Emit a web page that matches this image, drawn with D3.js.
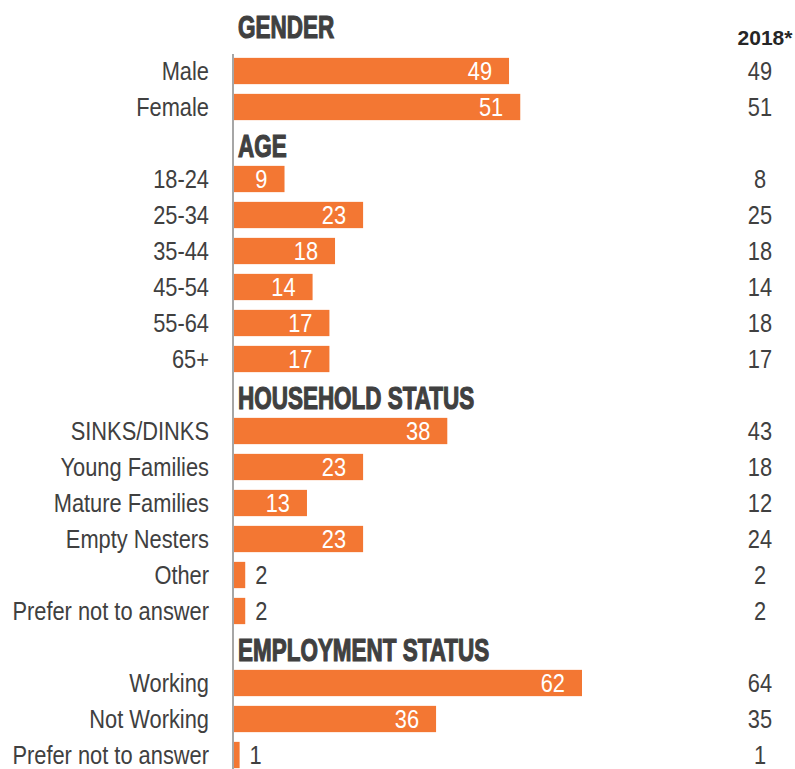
<!DOCTYPE html>
<html>
<head>
<meta charset="utf-8">
<script src="https://cdn.jsdelivr.net/npm/d3@7"></script>
<style>
  body { margin: 0; background: #fff; }
  text { font-family: "Liberation Sans", Arial, sans-serif; fill: #404040; }
</style>
</head>
<body>
<script>
const sections = ["GENDER", "AGE", "HOUSEHOLD STATUS", "EMPLOYMENT STATUS"]
const categories = ["Male", "Female", "18-24", "25-34", "35-44", "45-54", "55-64", "65+",
  "SINKS/DINKS", "Young Families", "Mature Families", "Empty Nesters", "Other", "Prefer not to answer",
  "Working", "Not Working", "Prefer not to answer"]
const sectionOf = [0, 0, 1, 1, 1, 1, 1, 1, 2, 2, 2, 2, 2, 2, 3, 3, 3]
const values = [49, 51, 9, 23, 18, 14, 17, 17, 38, 23, 13, 23, 2, 2, 62, 36, 1]
const values2018 = [49, 51, 8, 25, 18, 14, 18, 17, 43, 18, 12, 24, 2, 2, 64, 35, 1]
const compareLabel = "2018*"

const w = 795
const h = 769
const axisX = 234
const orange = "#f37733"
const narrow = 0.84   // squeeze to look like Arial Narrow

// rows: a header row before each section, then its categories
let rows = []
sections.forEach((s, si) => {
  rows.push({ key: `h${si}`, type: 'header', label: s, idx: si })
  categories.forEach((c, ci) => {
    if (sectionOf[ci] === si) {
      rows.push({ key: `c${ci}`, type: 'cat', label: c, value: values[ci], prev: values2018[ci] })
    }
  })
})

const yScale = d3.scaleBand()
  .domain(rows.map(d => d.key))
  .range([17, 17 + rows.length * 36])
  .padding(0)

const xScale = d3.scaleLinear()
  .domain([0, 62])
  .range([axisX, 582])

const barH = yScale.bandwidth() * 0.73

const svg = d3.select("body")
  .append("svg")
  .attr("width", w)
  .attr("height", h)

const mid = (d) => yScale(d.key) + yScale.bandwidth() / 2
const cats = rows.filter(d => d.type === 'cat')
const headers = rows.filter(d => d.type === 'header')

svg.selectAll(".bar")
  .data(cats)
  .enter()
  .append("rect")
  .attr("class", "bar")
  .attr("x", xScale(0))
  .attr("y", d => mid(d) - barH / 2)
  .attr("width", d => xScale(d.value) - xScale(0))
  .attr("height", barH)
  .attr("fill", orange)

// vertical axis line
svg.append("line")
  .attr("x1", axisX - 1).attr("x2", axisX - 1)
  .attr("y1", 54).attr("y2", h)
  .attr("stroke", "#a6a6a6")
  .attr("stroke-width", 2)

svg.selectAll(".cat-label")
  .data(cats)
  .enter()
  .append("text")
  .attr("class", "cat-label")
  .attr("transform", d => `translate(209,${mid(d) + 9}) scale(${narrow},1)`)
  .attr("text-anchor", "end")
  .style("font-size", "26px")
  .text(d => d.label)

svg.selectAll(".val-label")
  .data(cats)
  .enter()
  .append("text")
  .attr("class", "val-label")
  .attr("transform", d => {
    const x = d.value > 5 ? xScale(d.value) - 17 : xScale(d.value) + 10
    return `translate(${x},${mid(d) + 9}) scale(${narrow},1)`
  })
  .attr("text-anchor", d => d.value > 5 ? "end" : "start")
  .style("font-size", "26px")
  .style("fill", d => d.value > 5 ? "#fff" : "#404040")
  .text(d => d.value)

svg.selectAll(".prev-label")
  .data(cats)
  .enter()
  .append("text")
  .attr("class", "prev-label")
  .attr("transform", d => `translate(760,${mid(d) + 9}) scale(${narrow},1)`)
  .attr("text-anchor", "middle")
  .style("font-size", "26px")
  .text(d => d.prev)

svg.selectAll(".header")
  .data(headers)
  .enter()
  .append("text")
  .attr("class", "header")
  .attr("transform", d => `translate(238,${d.idx === 0 ? mid(d) + 3 : mid(d) + 14}) scale(0.725,1)`)
  .style("font-size", "31px")
  .style("font-weight", "bold")
  .style("fill", "#404040")
  .style("stroke", "#404040")
  .style("stroke-width", "1.2px")
  .text(d => d.label)

svg.append("text")
  .attr("x", 765)
  .attr("y", 45)
  .attr("text-anchor", "middle")
  .style("font-size", "21px")
  .style("font-weight", "bold")
  .style("fill", "#262626")
  .text(compareLabel)
</script>
</body>
</html>
